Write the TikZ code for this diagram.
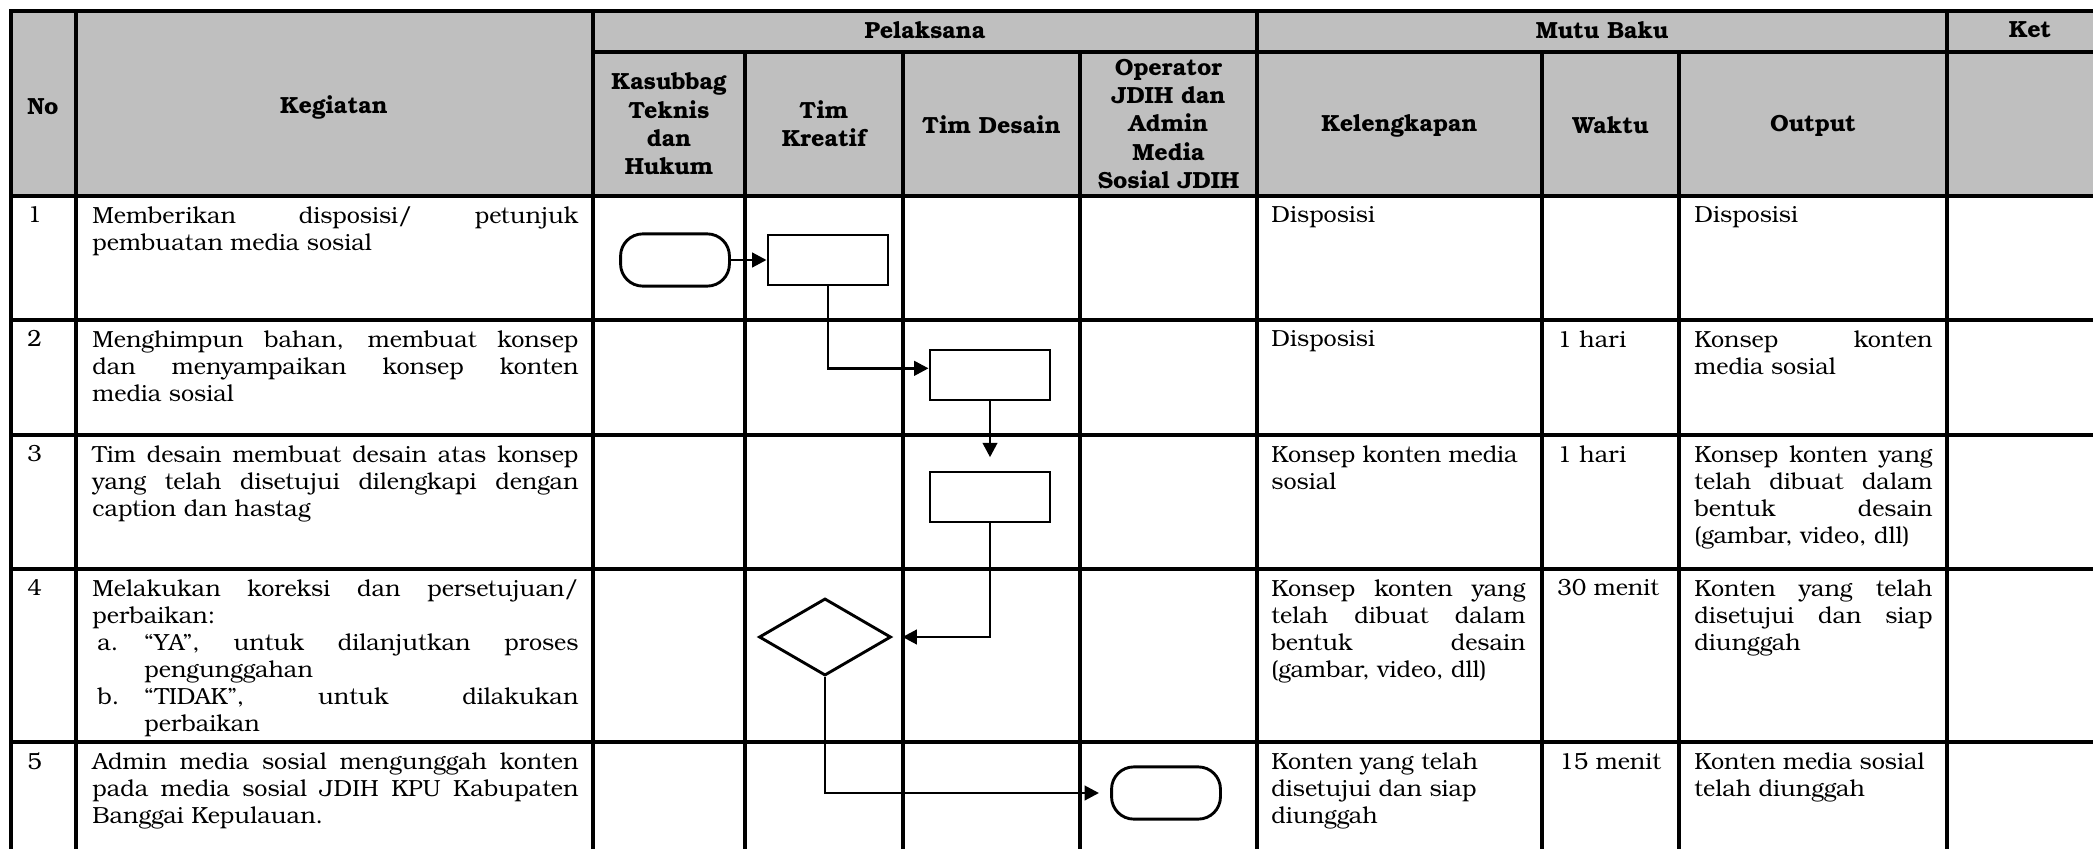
\documentclass[tikz,border=0pt]{standalone}
\usepackage{fontspec}
\setmainfont{texgyrebonum}[Extension=.otf,UprightFont=*-regular,BoldFont=*-bold,ItalicFont=*-italic,BoldItalicFont=*-bolditalic]
\usetikzlibrary{shapes.geometric,arrows.meta}
\definecolor{abu}{RGB}{191,191,191}

\begin{document}
\begin{tikzpicture}[x=0.45pt, y=-0.45pt,
  garis/.style={line width=1.8pt, line cap=rect},
  head/.style={font=\fontsize{10.5}{12.7}\selectfont\bfseries, align=center, inner sep=0pt},
  cell/.style={font=\fontsize{10.5}{12.2}\selectfont, anchor=north west, inner sep=0pt, align=justify},
  proses/.style={draw, line width=1.3pt, minimum width=54pt, minimum height=22.5pt, inner sep=0pt},
  terminal/.style={draw, line width=1.3pt, rounded corners=10pt, minimum width=49pt, minimum height=23.5pt, inner sep=0pt},
  keputusan/.style={draw, diamond, line width=1.3pt, minimum width=59.4pt, minimum height=34.7pt, inner sep=0pt},
  alur/.style={line width=1.3pt, -{Triangle[length=6.5pt,width=6.5pt]}}]
  \useasboundingbox (0,0) rectangle (2093,848);

  % kepala tabel
  \fill[abu] (10.7,10.7) rectangle (2093,196);
  \foreach \x in {10.7,76,593,1257,1947} \draw[garis] (\x,10.7) -- (\x,848);
  \foreach \x in {745,903,1080,1542,1679} \draw[garis] (\x,52) -- (\x,848);
  \draw[garis] (593,52) -- (2093,52);
  \foreach \y in {10.7,196,320,435,569,742} \draw[garis] (10.7,\y) -- (2093,\y);

  \node[head] (hno) at (43,107) {No};
  \node[head] (hkeg) at (334,107) {Kegiatan};
  \node[head] (hpel) at (925,30) {Pelaksana};
  \node[head] (hmutu) at (1602,30) {Mutu Baku};
  \node[head] (hket) at (2030,30) {Ket};
  \node[head] (hkas) at (669,124) {Kasubbag\\Teknis\\dan\\Hukum};
  \node[head] (hkre) at (824,124) {Tim\\Kreatif};
  \node[head] (hdes) at (991.5,125) {Tim Desain};
  \node[head] (hop) at (1168.5,124) {Operator\\JDIH dan\\Admin\\Media\\Sosial JDIH};
  \node[head] (hkel) at (1399.5,126) {Kelengkapan};
  \node[head] (hwak) at (1610.5,125) {Waktu};
  \node[head] (hout) at (1813,126) {Output};

  % isi
  \foreach \i/\y in {1/206,2/330,3/445,4/579,5/752}
    \node[cell] (n\i) at (27,\y) {\i};

  \node[cell, text width=218.7pt] (k1) at (92,206)
    {Memberikan disposisi/ petunjuk\linebreak pembuatan media sosial};
  \node[cell, text width=218.7pt] (k2) at (92,330)
    {Menghimpun bahan, membuat konsep\linebreak dan menyampaikan konsep konten\linebreak media sosial};
  \node[cell, text width=218.7pt] (k3) at (92,445)
    {Tim desain membuat desain atas konsep\linebreak yang telah disetujui dilengkapi dengan\linebreak caption dan hastag};
  \node[cell, text width=218.7pt] (k4) at (92,579)
    {\noindent Melakukan koreksi dan persetujuan/\linebreak perbaikan:\par
     \noindent\hangindent=23.4pt\makebox[23.4pt][l]{\hspace{2.2pt}a.}“YA”, untuk dilanjutkan proses\linebreak pengunggahan\par
     \noindent\hangindent=23.4pt\makebox[23.4pt][l]{\hspace{2.2pt}b.}“TIDAK”, untuk dilakukan\linebreak perbaikan\par};
  \node[cell, text width=218.7pt] (k5) at (92,752)
    {Admin media sosial mengunggah konten\linebreak pada media sosial JDIH KPU Kabupaten\linebreak Banggai Kepulauan.};

  \node[cell, text width=114.3pt] (l1) at (1271,206) {Disposisi};
  \node[cell, text width=114.3pt] (l2) at (1271,330) {Disposisi};
  \node[cell, text width=114.3pt] (l3) at (1271,445) {Konsep konten media\\sosial};
  \node[cell, text width=114.3pt] (l4) at (1271,579)
    {Konsep konten yang\linebreak telah dibuat dalam\linebreak bentuk desain\linebreak \mbox{(gambar, video, dll)}};
  \node[cell, text width=114.3pt] (l5) at (1271,752) {Konten yang telah\\disetujui dan siap\\diunggah};

  \node[cell, align=left] (w2) at (1557,330) {1 hari};
  \node[cell, align=left] (w3) at (1557,445) {1 hari};
  \node[cell, align=left] (w4) at (1557,579) {30 menit};
  \node[cell, align=left] (w5) at (1559,752) {15 menit};

  \node[cell, text width=107.1pt] (o1) at (1694,206) {Disposisi};
  \node[cell, text width=107.1pt] (o2) at (1694,330) {Konsep konten\linebreak media sosial};
  \node[cell, text width=107.1pt] (o3) at (1694,445)
    {Konsep konten yang\linebreak telah dibuat dalam\linebreak bentuk desain\linebreak \mbox{(gambar, video, dll)}};
  \node[cell, text width=107.1pt] (o4) at (1694,579)
    {Konten yang telah\linebreak disetujui dan siap\linebreak diunggah};
  \node[cell, text width=107.1pt] (o5) at (1694,752) {Konten media sosial\\telah diunggah};

  % alur
  \node[terminal] (mulai) at (675,260) {};
  \node[proses] (konsep) at (828,260) {};
  \node[proses] (desain) at (990,375) {};
  \node[proses] (hasil) at (990,497) {};
  \node[keputusan] (koreksi) at (825,637) {};
  \node[terminal] (unggah) at (1166,793) {};

  \draw[alur] (mulai) -- (konsep);
  \draw[alur] (konsep.south) |- ([yshift=3pt]desain.west);
  \draw[alur, shorten >=6pt] (desain) -- (hasil);
  \draw[alur, shorten >=4.5pt] (hasil.south) |- (koreksi.east);
  \draw[alur, shorten >=5pt] (koreksi) |- (unggah);
\end{tikzpicture}
\end{document}
